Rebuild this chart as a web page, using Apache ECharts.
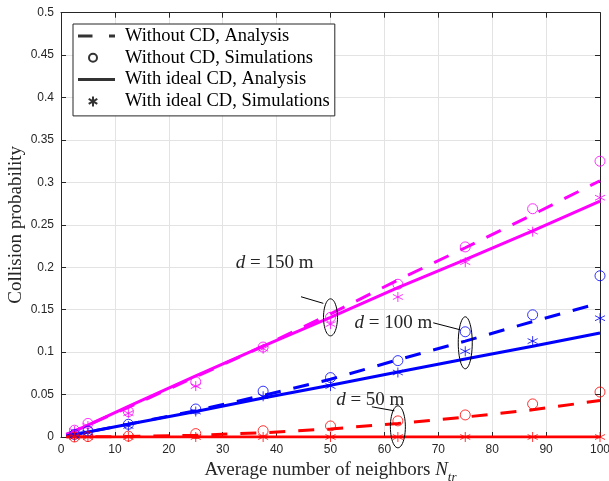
<!DOCTYPE html>
<html><head><meta charset="utf-8">
<script src="https://cdn.jsdelivr.net/npm/echarts@6/dist/echarts.min.js"></script>
<style>html,body{margin:0;padding:0;background:#fff}#c{width:609px;height:481px}</style>
</head><body><div id="c"></div>
<script>
// ---------- data ----------
const xAnalysis = [1, 2.5, 5, 12.5, 25, 37.5, 50, 62.5, 75, 87.5, 100];
const xSim = [2.5, 5, 12.5, 25, 37.5, 50, 62.5, 75, 87.5, 100];

const noCdAna150 = [0.003, 0.007, 0.014, 0.035, 0.071, 0.107, 0.145, 0.185, 0.223, 0.262, 0.302];
const cdAna150   = [0.003, 0.007, 0.014, 0.036, 0.072, 0.107, 0.141, 0.176, 0.209, 0.243, 0.278];
const noCdAna100 = [0.001, 0.003, 0.006, 0.015, 0.031, 0.049, 0.068, 0.091, 0.113, 0.136, 0.158];
const cdAna100   = [0.001, 0.003, 0.006, 0.015, 0.030, 0.046, 0.061, 0.0765, 0.092, 0.107, 0.1225];
const noCdAna50  = [0, 0, 0.0001, 0.0006, 0.002, 0.005, 0.0095, 0.016, 0.0235, 0.032, 0.043];
const cdAna50    = [0, 0, 0, 0, 0, 0, 0, 0, 0, 0, 0];

const noCdSim150 = [0.008, 0.016, 0.030, 0.065, 0.106, 0.141, 0.180, 0.224, 0.269, 0.325];
const cdSim150   = [0.007, 0.013, 0.028, 0.060, 0.104, 0.133, 0.165, 0.206, 0.242, 0.282];
const noCdSim100 = [0.003, 0.007, 0.015, 0.033, 0.054, 0.070, 0.090, 0.124, 0.144, 0.190];
const cdSim100   = [0.002, 0.005, 0.013, 0.030, 0.048, 0.060, 0.076, 0.101, 0.113, 0.140];
const noCdSim50  = [0, 0.0005, 0.001, 0.004, 0.0074, 0.013, 0.019, 0.026, 0.039, 0.053];
const cdSim50    = [0, 0, 0, 0, 0, 0, 0, 0, 0, 0];

const legendNames = ['Without CD, Analysis', 'Without CD, Simulations', 'With ideal CD, Analysis', 'With ideal CD, Simulations'];
const annotations = [
  { x: 50, y: 0.141, label: '150' },
  { x: 75, y: 0.111, label: '100' },
  { x: 62.5, y: 0.012, label: '50' }
];

// ---------- styling ----------
const SERIF = 'Liberation Serif';
const SANS = 'Liberation Sans';
const AX = '#262626';
const STAR = 'path://M50,0L50,100M6.7,25L93.3,75M6.7,75L93.3,25';
const zip = (xs, ys) => xs.map((x, i) => [x, ys[i]]);

function anaSeries(ys, color, dashed) {
  return { type: 'line', data: zip(xAnalysis, ys), showSymbol: false, symbol: 'none', z: 2,
    lineStyle: { color, width: 3, type: dashed ? [16, 13] : 'solid' }, itemStyle: { color }, silent: true };
}
function simSeries(ys, color, star) {
  return { type: 'scatter', data: zip(xSim, ys), symbol: star ? STAR : 'circle', symbolSize: 10, z: 3,
    itemStyle: { color: 'rgba(0,0,0,0)', borderColor: color, borderWidth: 1 }, silent: true };
}

// legend icons (42 x 14 box)
const ICON_DASH = 'path://M0,0M42,14M0,5.5h14.5v3h-14.5zM31,5.5h6v3h-6z';
const ICON_SOLID = 'path://M0,0M42,14M0,5.5h37v3h-37z';
const ICON_CIRC = 'path://M0,0M42,14M11,7A4,4,0,1,0,19,7A4,4,0,1,0,11,7Z';
const ICON_STAR = 'path://M0,0M42,14M15,2L15,12M10.7,4.5L19.3,9.5M10.7,9.5L19.3,4.5';

const M = '#ff00ff', B = '#0000ff', R = '#ff0000';
const filled = { color: '#000', borderWidth: 0 };
const hollow = { color: 'rgba(0,0,0,0)', borderColor: '#000', borderWidth: 1 };
const series = [
  anaSeries(noCdAna150, M, true), anaSeries(cdAna150, M, false),
  anaSeries(noCdAna100, B, true), anaSeries(cdAna100, B, false),
  anaSeries(noCdAna50, R, true), anaSeries(cdAna50, R, false),
  simSeries(noCdSim150, M, false), simSeries(cdSim150, M, true),
  simSeries(noCdSim100, B, false), simSeries(cdSim100, B, true),
  simSeries(noCdSim50, R, false), simSeries(cdSim50, R, true),
  // legend-only series
  { name: legendNames[0], type: 'scatter', data: [], itemStyle: filled },
  { name: legendNames[1], type: 'scatter', data: [], itemStyle: hollow },
  { name: legendNames[2], type: 'scatter', data: [], itemStyle: filled },
  { name: legendNames[3], type: 'scatter', data: [], itemStyle: hollow }
];

const chart = echarts.init(document.getElementById('c'), null, { renderer: 'canvas' });
const axisCommon = {
  axisLine: { show: true, onZero: false, lineStyle: { color: AX, width: 1 } },
  axisTick: { show: true, inside: true, length: 5, lineStyle: { color: AX } }
};
chart.setOption({
  animation: false,
  backgroundColor: '#fff',
  grid: { left: 61, right: 9, top: 12.7, bottom: 44, containLabel: false, outerBoundsMode: 'none' },
  legend: {
    data: [
      { name: legendNames[0], icon: ICON_DASH },
      { name: legendNames[1], icon: ICON_CIRC },
      { name: legendNames[2], icon: ICON_SOLID },
      { name: legendNames[3], icon: ICON_STAR }
    ],
    orient: 'vertical', left: 73, top: 24,
    itemWidth: 42, itemHeight: 14, itemGap: 2.8, padding: [2.5, 5, 5, 4],
    backgroundColor: '#fff', borderColor: AX, borderWidth: 1, borderRadius: 0,
    selectedMode: false,
    textStyle: { fontFamily: SERIF, fontSize: 18.5, color: '#000' }
  },
  xAxis: [
    Object.assign({ type: 'value', min: 0, max: 100, interval: 10, position: 'bottom',
      axisLabel: { color: AX, fontFamily: SANS, fontSize: 12, margin: 7 },
      splitLine: { show: true, lineStyle: { color: '#e3e3e3', width: 1 } },
      name: '{a|Average number of neighbors }{b|N}{c|tr}', nameLocation: 'middle', nameGap: 23,
      nameTextStyle: { fontFamily: SERIF, fontSize: 19, color: AX, rich: {
        a: { fontFamily: SERIF, fontSize: 19, color: AX, verticalAlign: 'bottom', padding: [0, 0, 4, 0] },
        b: { fontFamily: SERIF, fontSize: 19, color: AX, fontStyle: 'italic', verticalAlign: 'bottom', padding: [0, 0, 4, 0] },
        c: { fontFamily: SERIF, fontSize: 13, color: AX, fontStyle: 'italic', verticalAlign: 'bottom' } } }
    }, axisCommon),
    Object.assign({ type: 'value', min: 0, max: 100, interval: 10, position: 'top',
      axisLabel: { show: false }, splitLine: { show: false } }, axisCommon)
  ],
  yAxis: [
    Object.assign({ type: 'value', min: 0, max: 0.5, interval: 0.05, position: 'left',
      axisLabel: { color: AX, fontFamily: SANS, fontSize: 12, margin: 7, formatter: v => String(+v.toFixed(2)) },
      splitLine: { show: true, lineStyle: { color: '#e3e3e3', width: 1 } },
      name: 'Collision probability', nameLocation: 'middle', nameGap: 35, nameMoveOverlap: false,
      nameTextStyle: { fontFamily: SERIF, fontSize: 19, color: AX }
    }, axisCommon),
    Object.assign({ type: 'value', min: 0, max: 0.5, interval: 0.05, position: 'right',
      axisLabel: { show: false }, splitLine: { show: false } }, axisCommon)
  ],
  series: series
});

// annotations (ellipses + labels) placed through the axis scales
const ANN_STYLE = {
  '150': { rx: 7, ry: 18.5, tx: -17, ty: -54, l: [-29.5, -20.6, -7.2, -14] },
  '100': { rx: 7, ry: 26, tx: -33, ty: -20, l: [-32, -20, -5, -13] },
  '50':  { rx: 7.5, ry: 21, tx: 6.5, ty: -27, l: [-26, -20, -3.5, -16] }
};
const graphics = [];
annotations.forEach(a => {
  const p = chart.convertToPixel({ xAxisIndex: 0, yAxisIndex: 0 }, [a.x, a.y]);
  const s = ANN_STYLE[a.label];
  const pts = [];
  for (let k = 0; k < 48; k++) {
    const t = k / 48 * Math.PI * 2;
    pts.push([p[0] + s.rx * Math.cos(t), p[1] + s.ry * Math.sin(t)]);
  }
  graphics.push({ type: 'polygon', shape: { points: pts }, style: { fill: 'none', stroke: '#000', lineWidth: 1 }, z: 100 });
  graphics.push({ type: 'line', shape: { x1: p[0] + s.l[0], y1: p[1] + s.l[1], x2: p[0] + s.l[2], y2: p[1] + s.l[3] },
    style: { stroke: '#000', lineWidth: 1 }, z: 100 });
  graphics.push({ type: 'text', x: p[0] + s.tx, y: p[1] + s.ty, z: 100,
    style: { text: '{i|d}{n| = ' + a.label + ' m}', align: 'right', verticalAlign: 'middle',
      rich: { i: { fontFamily: SERIF, fontSize: 19, fontStyle: 'italic', fill: '#262626' },
              n: { fontFamily: SERIF, fontSize: 19, fill: '#262626' } } } });
});
chart.setOption({ graphic: graphics });
</script>
</body></html>
